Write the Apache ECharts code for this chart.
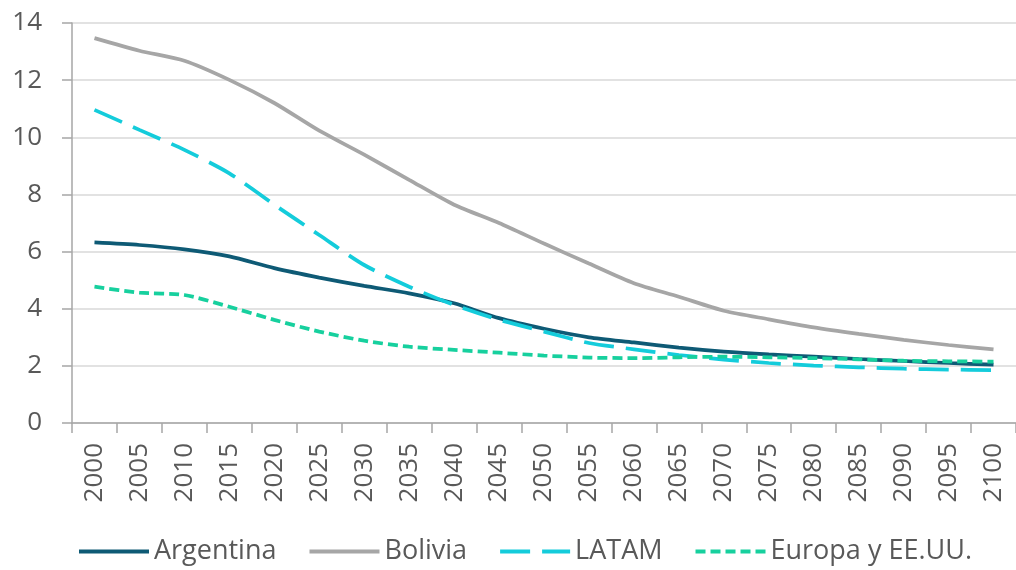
<!DOCTYPE html>
<html><head><meta charset="utf-8">
<script src="https://cdn.jsdelivr.net/npm/echarts@6/dist/echarts.min.js"></script>
<style>html,body{margin:0;padding:0;background:#fff}#c{width:1016px;height:570px}</style>
</head><body><div id="c"></div>
<script>
const years = ['2000','2005','2010','2015','2020','2025','2030','2035','2040','2045','2050','2055','2060','2065','2070','2075','2080','2085','2090','2095','2100'];
const argentina = [6.32,6.23,6.08,5.83,5.42,5.09,4.80,4.54,4.19,3.67,3.30,3.00,2.82,2.64,2.50,2.40,2.32,2.24,2.17,2.10,2.04];
const bolivia = [13.47,13.03,12.68,12.01,11.20,10.23,9.39,8.51,7.64,7.00,6.28,5.58,4.89,4.42,3.93,3.63,3.35,3.12,2.91,2.73,2.58];
const latam = [10.96,10.26,9.56,8.74,7.64,6.58,5.53,4.77,4.13,3.61,3.20,2.80,2.58,2.38,2.22,2.10,2.01,1.95,1.90,1.87,1.85];
const europa = [4.77,4.56,4.48,4.07,3.61,3.20,2.88,2.67,2.56,2.46,2.36,2.29,2.27,2.30,2.32,2.30,2.27,2.23,2.18,2.16,2.15];
const yTicks = {min:0, max:14, interval:2};
const font = '"Open Sans", "Noto Sans", sans-serif';
const chart = echarts.init(document.getElementById('c'));
function mk(name, data, color, type, width){
  return {name, type:'line', data, symbol:'none', smooth:0.25,
    lineStyle:{color, width, type, cap:'butt'}, itemStyle:{color}};
}
chart.setOption({
  animation:false,
  textStyle:{fontFamily:font},
  grid:{left:72, right:-5, top:23, bottom:147},
  legend:{left:72, top:533, itemWidth:70, itemHeight:6, itemGap:31,
    lineStyle:{width:4},
    itemStyle:{opacity:0},
    textStyle:{fontSize:27, color:'#595959', fontFamily:font},
    data:['Argentina','Bolivia','LATAM','Europa y EE.UU.']},
  xAxis:{type:'category', data:years, boundaryGap:true,
    axisLine:{lineStyle:{color:'#A6A6A6', width:1.5}},
    axisTick:{show:true, length:10, lineStyle:{color:'#A6A6A6', width:1.5}},
    axisLabel:{rotate:90, fontSize:26, color:'#595959', margin:20, fontFamily:font, interval:0}},
  yAxis:{type:'value', min:yTicks.min, max:yTicks.max, interval:yTicks.interval,
    axisLine:{show:true, lineStyle:{color:'#A6A6A6', width:1.5}},
    axisTick:{show:true, length:10, lineStyle:{color:'#A6A6A6', width:1.5}},
    splitLine:{lineStyle:{color:'#D9D9D9', width:1.5}},
    axisLabel:{fontSize:26, color:'#595959', margin:30, fontFamily:font}},
  series:[
    mk('Argentina', argentina, '#0E5A75', 'solid', 3.75),
    mk('Bolivia', bolivia, '#A6A6A6', 'solid', 3.75),
    mk('LATAM', latam, '#14CCDB', [30,12], 3.75),
    mk('Europa y EE.UU.', europa, '#17D09E', [10,5], 3.75)
  ]
});
</script></body></html>
